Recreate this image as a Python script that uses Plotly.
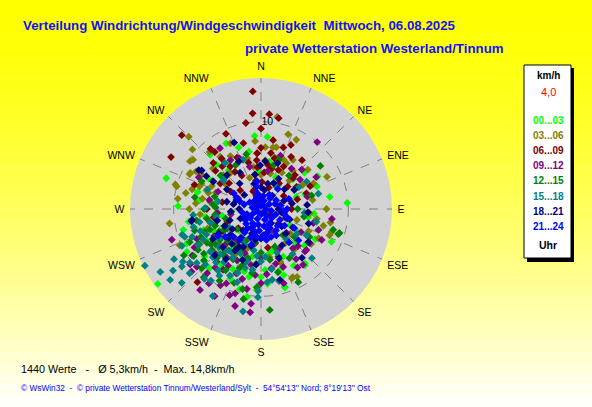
import plotly.graph_objects as go

W, H = 592, 407

# Windrose-Punkte je Zeitfenster: (Richtung in Grad, Geschwindigkeit km/h), aus dem Bild geschätzt
h00_03 = [(288, 11.4), (272, 9.5), (332, 8.5), (355, 8.4), (5, 8.3), (86, 9.9), (254, 7.9), (68, 6.9),
          (161, 7.2), (115, 8.9), (142, 8.2), (163, 9.4), (189, 10.2), (183, 8.9), (183, 9.3), (234, 14.6),
          (255, 9.2), (348, 6.7), (317, 8.5), (309, 6.0), (278, 7.1), (356, 4.3), (36, 3.4), (47, 5.0),
          (71, 4.3), (72, 5.3), (119, 3.8), (122, 5.0), (119, 7.1), (227, 8.8), (221, 9.0), (204, 8.7),
          (214, 8.4), (245, 9.4), (240, 7.2), (161, 8.0), (163, 9.3), (141, 8.0), (176, 7.0), (210, 5.5),
          (230, 6.2), (200, 4.8), (250, 5.6), (262, 6.4), (300, 6.9), (320, 5.8), (20, 6.0), (60, 7.5),
          (95, 6.1), (135, 5.5), (195, 7.4), (215, 7.8), (225, 6.6), (235, 5.9), (245, 4.7), (205, 6.5),
          (190, 7.9), (170, 5.2), (260, 8.4), (280, 5.1), (215, 5.5), (225, 5.0), (235, 6.8), (205, 7.6),
          (220, 7.9), (230, 8.4), (240, 9.8), (250, 7.0), (200, 6.0), (210, 8.0), (190, 5.5), (180, 7.8),
          (175, 8.6), (195, 9.5), (245, 6.0), (238, 4.2), (225, 3.5), (200, 3.0), (260, 4.5), (270, 6.5),
          (285, 7.5), (300, 8.0), (315, 7.2), (325, 6.5), (340, 7.5), (345, 5.5), (10, 5.5), (25, 4.0),
          (50, 6.5), (80, 8.0), (100, 5.5), (110, 7.0), (130, 6.5), (150, 7.5), (155, 6.0), (165, 5.0)]
h03_06 = [(315, 11.7), (311, 10.4), (10, 10.7), (20, 9.1), (27, 8.9), (64, 8.4), (11, 7.2), (4, 7.1),
          (277, 9.6), (286, 8.2), (296, 9.1), (286, 10.2), (306, 9.6), (261, 10.6), (105, 7.4), (111, 8.4),
          (101, 8.1), (156, 8.7), (152, 8.8), (155, 8.6), (246, 10.2), (304, 9.8), (297, 9.1), (285, 10.0),
          (290, 7.5), (293, 7.4), (289, 6.6), (287, 6.3), (312, 5.8), (317, 5.5), (322, 7.6), (278, 5.9),
          (256, 5.2), (25, 6.2), (33, 6.7), (64, 6.7), (14, 7.3), (356, 6.4), (29, 6.0), (95, 5.6),
          (107, 4.3), (117, 7.4), (145, 4.8), (108, 8.5), (300, 4.5), (325, 5.2), (340, 3.8), (350, 4.9),
          (0, 3.9), (45, 4.6), (75, 3.5), (130, 4.4), (170, 5.6), (200, 4.9), (230, 6.3), (240, 8.1),
          (320, 5.4), (15, 4.2), (280, 6.8), (300, 7.9), (295, 6.2), (300, 8.6), (310, 7.2), (318, 8.8),
          (330, 7.0), (335, 8.3), (345, 6.0), (355, 7.8), (5, 5.6), (15, 6.1), (30, 4.8), (40, 5.7),
          (275, 7.5), (282, 8.8), (270, 8.2), (265, 7.0), (250, 6.5), (235, 5.5), (220, 4.5), (210, 6.0),
          (190, 4.0), (160, 6.5), (140, 6.0), (125, 7.0), (115, 6.0), (100, 6.5), (90, 7.5), (80, 6.0),
          (60, 5.5), (50, 7.0), (305, 5.0), (290, 5.5)]
h06_09 = [(356, 13.5), (355, 11.0), (5, 10.9), (11, 10.6), (313, 12.4), (300, 11.9), (356, 6.4), (221, 11.1),
          (321, 8.4), (314, 7.6), (309, 4.7), (295, 2.9), (355, 5.6), (9, 5.1), (322, 7.3), (324, 6.0),
          (24, 4.9), (46, 5.1), (58, 4.8), (71, 5.5), (336, 2.2), (315, 1.0), (340, 2.3), (340, 1.6),
          (340, 0.9), (312, 3.2), (122, 1.2), (45, 5.5), (15, 4.8), (302, 5.5), (350, 4.0), (2, 3.1),
          (20, 2.6), (35, 3.6), (60, 3.0), (80, 2.1), (100, 2.7), (150, 2.0), (200, 2.6), (230, 3.4),
          (250, 4.1), (210, 5.2), (195, 6.0), (170, 4.5), (330, 4.4), (345, 7.8), (10, 8.0), (30, 6.9),
          (0, 9.2), (290, 8.1), (270, 6.2), (335, 9.5), (25, 8.1), (40, 7.3), (350, 3.3), (5, 4.2),
          (355, 4.8), (345, 5.5), (335, 6.5), (325, 5.2), (318, 6.6), (15, 6.0), (28, 5.5), (50, 4.0),
          (65, 6.2), (75, 4.3), (90, 3.5), (110, 3.0), (130, 2.6), (175, 3.0), (190, 4.0), (215, 4.5),
          (225, 6.0), (240, 5.0), (260, 5.5), (280, 4.5), (300, 4.0), (310, 6.8), (320, 9.0), (0, 7.0),
          (10, 6.5), (20, 7.5), (350, 10.0)]
h09_12 = [(326, 8.4), (40, 10.0), (98, 8.2), (117, 7.8), (143, 8.0), (251, 10.8), (132, 7.0), (148, 7.9),
          (163, 8.9), (195, 11.5), (186, 11.9), (186, 10.9), (197, 10.1), (217, 11.6), (232, 10.3), (208, 9.9),
          (228, 10.7), (208, 11.3), (292, 5.3), (328, 6.6), (297, 8.0), (337, 6.3), (37, 5.8), (46, 6.5),
          (53, 5.6), (133, 4.0), (141, 5.8), (134, 7.0), (159, 7.1), (205, 9.4), (218, 8.5), (220, 9.6),
          (236, 9.5), (228, 9.9), (212, 8.2), (201, 7.9), (190, 6.5), (200, 5.4), (215, 6.8), (225, 7.3),
          (240, 6.2), (210, 4.2), (180, 5.6), (170, 6.9), (155, 5.0), (120, 5.3), (105, 6.2), (230, 5.1),
          (245, 8.1), (195, 8.3), (185, 7.6), (150, 3.0), (260, 3.5), (10, 4.4), (60, 7.3), (195, 6.0),
          (205, 6.5), (210, 7.5), (220, 7.9), (225, 5.8), (235, 7.0), (240, 8.8), (215, 10.4), (200, 10.5),
          (190, 9.3), (180, 8.5), (175, 7.5), (165, 6.5), (160, 5.8), (145, 7.0), (135, 6.0), (125, 6.8),
          (110, 7.0), (200, 3.5), (220, 4.5), (240, 4.5), (255, 6.0), (265, 5.0), (280, 6.0), (310, 5.5),
          (345, 5.0), (20, 6.5), (75, 5.5)]
h12_15 = [(54, 8.4), (108, 9.3), (153, 9.4), (183, 9.0), (175, 11.6), (193, 9.4), (239, 10.3), (220, 10.2),
          (191, 10.5), (106, 8.6), (272, 5.2), (263, 5.3), (16, 5.2), (260, 6.3), (248, 6.3), (237, 8.6),
          (241, 8.2), (232, 8.3), (107, 9.4), (233, 5.9), (230, 7.3), (209, 6.6), (280, 7.7), (275, 5.5),
          (225, 4.5), (215, 5.1), (205, 4.0), (240, 4.8), (250, 5.6), (220, 6.8), (200, 7.2), (195, 5.8),
          (185, 6.3), (170, 5.9), (160, 4.6), (140, 3.9), (235, 7.0), (245, 7.6), (228, 8.8), (210, 8.1),
          (255, 4.2), (265, 3.4), (215, 3.2), (190, 3.9), (120, 6.4), (90, 4.2), (60, 4.4), (330, 5.8),
          (300, 6.4), (230, 3.6), (212, 5.6), (218, 6.0), (222, 7.6), (226, 5.3), (232, 6.6), (238, 7.3),
          (242, 5.4), (248, 7.0), (252, 8.0), (205, 5.0), (198, 6.7), (188, 7.4), (180, 5.0), (200, 9.0),
          (210, 9.5), (225, 9.6), (235, 9.4), (245, 9.0), (260, 7.5), (270, 6.5), (285, 5.5), (295, 7.5),
          (310, 6.0), (345, 6.5), (20, 6.0), (40, 5.0), (75, 6.0), (100, 5.0), (130, 5.0), (150, 6.5),
          (165, 7.5)]
h15_18 = [(244, 14.8), (250, 9.3), (134, 8.1), (175, 8.4), (171, 8.2), (182, 10.1), (103, 6.5), (190, 11.9),
          (238, 13.6), (232, 13.2), (234, 11.2), (209, 11.4), (236, 10.8), (235, 12.3), (227, 12.4), (182, 9.4),
          (75, 6.8), (322, 6.7), (271, 6.4), (307, 5.4), (340, 6.0), (309, 5.5), (35, 3.1), (59, 6.1),
          (166, 8.5), (233, 10.2), (219, 10.3), (225, 9.0), (215, 8.6), (240, 8.3), (230, 7.6), (222, 7.0),
          (210, 6.4), (245, 6.9), (235, 5.8), (220, 5.2), (205, 5.6), (200, 7.8), (195, 7.0), (250, 7.4),
          (255, 6.0), (228, 4.6), (212, 4.0), (240, 4.2), (190, 4.8), (180, 6.0), (160, 5.3), (145, 6.3),
          (125, 5.0), (260, 5.2), (230, 9.6), (215, 7.4), (245, 10.0), (205, 4.5), (210, 5.0), (215, 6.0),
          (220, 6.2), (225, 7.8), (228, 6.5), (232, 5.2), (238, 6.2), (242, 7.5), (248, 8.5), (252, 9.5),
          (255, 8.0), (258, 7.2), (220, 8.0), (212, 9.0), (205, 8.4), (198, 8.8), (195, 6.2), (188, 7.0),
          (185, 5.4), (175, 5.5), (170, 7.0), (240, 11.5), (228, 11.0), (215, 10.0), (265, 7.8), (280, 5.0),
          (290, 6.5), (120, 6.0), (140, 4.5), (95, 5.0), (60, 5.0)]
h18_21 = [(338, 8.2), (302, 8.4), (301, 7.3), (94, 5.4), (125, 6.6), (165, 8.4), (303, 8.1), (300, 6.3),
          (282, 4.0), (261, 8.0), (359, 5.0), (26, 3.3), (85, 5.3), (107, 5.7), (140, 7.3), (260, 8.1),
          (320, 3.8), (345, 3.0), (10, 2.2), (40, 2.0), (70, 2.8), (100, 2.4), (130, 3.1), (160, 2.5),
          (180, 3.4), (200, 3.0), (215, 4.0), (230, 4.6), (240, 5.6), (250, 3.8), (225, 6.2), (210, 5.0),
          (195, 4.4), (270, 2.5), (290, 3.0), (315, 5.5), (335, 6.0), (20, 5.6), (60, 4.4), (150, 4.8),
          (185, 6.4), (220, 3.2), (245, 2.6), (120, 4.2), (355, 1.5), (205, 2.2), (0, 2.5), (15, 3.0),
          (30, 4.0), (50, 3.5), (80, 3.6), (90, 2.0), (110, 3.5), (135, 4.0), (145, 2.0), (170, 3.0),
          (190, 3.6), (205, 4.8), (212, 5.6), (220, 5.2), (228, 5.0), (235, 4.0), (238, 6.5), (245, 4.6),
          (255, 5.2), (265, 3.5), (280, 3.2), (300, 4.5), (310, 2.5), (330, 4.8), (350, 4.0), (5, 5.5),
          (200, 6.2), (215, 7.0), (225, 7.5), (160, 6.0)]
h21_24 = [(0, 0.4), (45, 0.5), (90, 0.6), (135, 0.5), (180, 0.6), (225, 0.5), (270, 0.6), (315, 0.5),
          (20, 1.0), (60, 1.1), (100, 1.2), (140, 1.0), (160, 1.3), (200, 1.2), (240, 1.1), (280, 1.0),
          (320, 1.2), (350, 1.1), (10, 1.5), (40, 1.6), (70, 1.7), (110, 1.8), (130, 1.6), (150, 1.9),
          (170, 2.0), (190, 1.8), (210, 1.9), (230, 1.6), (250, 1.7), (300, 1.5), (340, 1.4), (80, 2.3),
          (95, 2.6), (105, 2.9), (120, 2.5), (135, 2.7), (145, 3.0), (155, 2.4), (165, 2.8), (175, 3.1),
          (185, 2.5), (195, 2.8), (205, 2.4), (215, 2.7), (225, 2.4), (235, 2.2), (245, 2.0), (60, 2.0),
          (30, 1.9), (160, 3.4), (170, 3.6), (180, 3.3), (190, 3.2), (150, 3.5), (125, 3.3), (110, 3.2),
          (90, 3.0), (200, 3.4), (215, 3.3), (260, 2.2), (285, 2.0), (290, 2.6), (295, 3.1), (300, 3.6),
          (345, 2.0), (350, 2.6), (352, 3.2), (225, 4.5), (232, 5.2), (238, 5.8), (215, 4.3), (140, 5.0),
          (130, 5.6), (120, 4.4), (195, 4.2), (70, 3.4), (40, 3.0)]

hour_labels = ["00...03", "03...06", "06...09", "09...12", "12...15", "15...18", "18...21", "21...24"]
hour_colors = ["#00ff00", "#808000", "#800000", "#800080", "#008000", "#008080", "#000080", "#0000ff"]
hour_data = [h00_03, h03_06, h06_09, h09_12, h12_15, h15_18, h18_21, h21_24]

directions = ["N", "NNE", "NE", "ENE", "E", "ESE", "SE", "SSE",
              "S", "SSW", "SW", "WSW", "W", "WNW", "NW", "NNW"]
dir_angles = [i * 22.5 for i in range(16)]

title1 = "Verteilung Windrichtung/Windgeschwindigkeit\u00a0 Mittwoch, 06.08.2025"
title2 = "private Wetterstation Westerland/Tinnum"
stats = "1440 Werte \u00a0\u00a0-\u00a0\u00a0 Ø 5,3km/h \u00a0-\u00a0 Max. 14,8km/h"
credits = ("© WsWin32 \u00a0-\u00a0 © private Wetterstation Tinnum/Westerland/Sylt \u00a0-\u00a0 "
           "54°54'13'' Nord; 8°19'13'' Ost")
last_speed = "4,0"

FONT = "Liberation Sans, Arial, sans-serif"


def px(x, y):
    return x / W, 1 - y / H


fig = go.Figure()

for label, color, pts in zip(hour_labels, hour_colors, hour_data):
    fig.add_trace(go.Scatterpolar(
        theta=[p[0] for p in pts], r=[p[1] for p in pts],
        mode="markers", name=label, showlegend=False,
        marker=dict(symbol="diamond", size=6, color=color, line=dict(width=0)),
    ))

# Hintergrund: Verlauf gelb -> hellgelb
shapes = []
n_strips = 37
for i in range(n_strips):
    y_mid = (i + 0.5) * H / n_strips
    b = int(255 * min(1.0, (y_mid / H) ** 1.5))
    shapes.append(dict(type="rect", xref="paper", yref="paper", layer="below",
                       x0=0, x1=1, y0=1 - (i + 1) / n_strips, y1=1 - i / n_strips + 0.001,
                       fillcolor=f"rgb(255,255,{b})", line=dict(width=0)))

# Legendenkasten mit Schatten
x0, y0 = px(527, 68)
x1, y1 = px(574, 262)
shapes.append(dict(type="rect", xref="paper", yref="paper", x0=x0, x1=x1, y0=y1, y1=y0,
                   fillcolor="black", line=dict(width=0)))
x0, y0 = px(524, 65)
x1, y1 = px(571, 258)
shapes.append(dict(type="rect", xref="paper", yref="paper", x0=x0, x1=x1, y0=y1, y1=y0,
                   fillcolor="white", line=dict(color="black", width=1)))

ann = []


def text(x, y, s, color="black", size=11, bold=False, anchor="left"):
    xx, yy = px(x, y)
    ann.append(dict(x=xx, y=yy, xref="paper", yref="paper", text=f"<b>{s}</b>" if bold else s,
                    showarrow=False, xanchor=anchor, yanchor="middle",
                    font=dict(family=FONT, size=size, color=color)))


text(21, 26, title1, color="#1414f5", size=13.3, bold=True)
text(243, 49, title2, color="#1414f5", size=13.3, bold=True)
text(19, 369, stats, size=10.8)
text(19, 388, credits, color="#0000ff", size=8.3)

text(548, 75, "km/h", size=10, bold=True, anchor="center")
text(548, 92, last_speed, color="#ff0000", size=11, anchor="center")
for i, (label, color) in enumerate(zip(hour_labels, hour_colors)):
    text(548, 120 + i * 15.2, label, color=color, size=10, bold=True, anchor="center")
text(548, 245, "Uhr", size=10.5, bold=True, anchor="center")

cx0, cy0 = px(261 - 131, 209 + 131)
cx1, cy1 = px(261 + 131, 209 - 131)

fig.update_layout(
    width=W, height=H,
    margin=dict(l=0, r=0, t=0, b=0),
    paper_bgcolor="#ffff00",
    showlegend=False,
    shapes=shapes,
    annotations=ann,
    polar=dict(
        domain=dict(x=[cx0, cx1], y=[cy0, cy1]),
        bgcolor="#d3d3d3",
        angularaxis=dict(
            rotation=90, direction="clockwise",
            tickmode="array", tickvals=dir_angles, ticktext=directions,
            ticks="outside", ticklen=3, tickcolor="rgba(0,0,0,0)", showline=False,
            gridcolor="#808080", griddash="dash", gridwidth=1,
            tickfont=dict(family=FONT, size=10.5, color="black"),
        ),
        radialaxis=dict(
            range=[0, 15], angle=90, tickangle=90,
            tickmode="array", tickvals=[10], ticktext=["10"],
            ticks="", showline=False,
            gridcolor="#808080", griddash="dash", gridwidth=1,
            tickfont=dict(family=FONT, size=10.5, color="black"),
        ),
    ),
)

fig.write_html("out.html", config={"displayModeBar": False},
               post_script="document.body.style.margin='0px';")
